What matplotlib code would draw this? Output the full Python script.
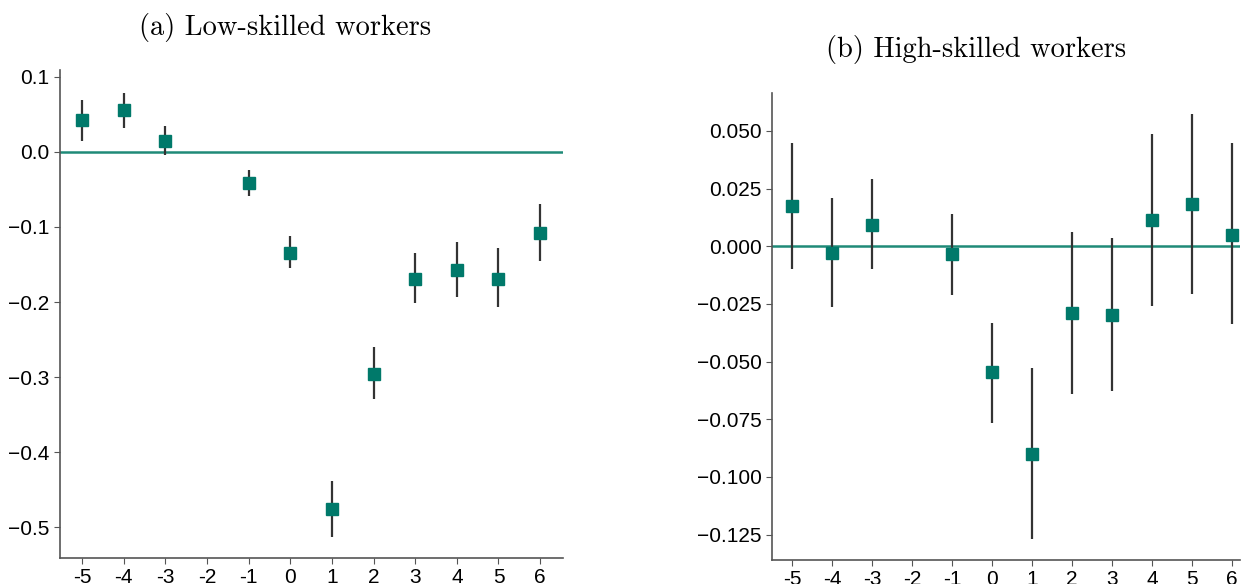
import numpy as np
import matplotlib
matplotlib.use("Agg")
import matplotlib.pyplot as plt

plt.rcParams['font.family'] = ['Liberation Sans', 'DejaVu Sans']

# event time
periods = [-5, -4, -3, -1, 0, 1, 2, 3, 4, 5, 6]
tick_labels = ['-5', '-4', '-3', '-2', '-1', '0', '1', '2', '3', '4', '5', '6']

# (a) low-skilled
low_coef = [0.043, 0.056, 0.015, -0.041, -0.135, -0.476, -0.296, -0.169, -0.157, -0.169, -0.108]
low_hi = [0.069, 0.079, 0.035, -0.024, -0.112, -0.439, -0.260, -0.135, -0.120, -0.128, -0.069]
low_lo = [0.015, 0.032, -0.004, -0.059, -0.155, -0.513, -0.329, -0.201, -0.193, -0.207, -0.145]

# (b) high-skilled
high_coef = [0.0174, -0.0030, 0.0091, -0.0035, -0.0547, -0.0902, -0.0290, -0.0300, 0.0113, 0.0182, 0.0049]
high_hi = [0.0447, 0.0208, 0.0290, 0.0139, -0.0331, -0.0527, 0.0062, 0.0035, 0.0486, 0.0575, 0.0446]
high_lo = [-0.0100, -0.0265, -0.0100, -0.0213, -0.0764, -0.1270, -0.0640, -0.0628, -0.0259, -0.0208, -0.0337]

teal = '#00796a'
zero_col = '#1f8a78'

fig = plt.figure(figsize=(12.44, 5.84), dpi=100)
ax1 = fig.add_axes([0.0482, 0.0445, 0.4044, 0.8355])
ax2 = fig.add_axes([0.6206, 0.041, 0.3762, 0.7998])


def panel(ax, coef, lo, hi, xlim, ylim, yticks, fmt):
    coef = np.array(coef)
    err = [coef - np.array(lo), np.array(hi) - coef]
    ax.axhline(0, color=zero_col, lw=1.8, zorder=1)
    ax.errorbar(periods, coef, yerr=err, fmt='none', ecolor='#333333',
                elinewidth=1.6, capsize=0, zorder=2)
    ax.plot(periods, coef, 's', color=teal, ms=8, zorder=3)
    ax.set_xlim(*xlim)
    ax.set_ylim(*ylim)
    ax.set_xticks(range(-5, 7))
    ax.set_xticklabels(tick_labels)
    ax.set_yticks(yticks)
    ax.set_yticklabels([fmt.format(v).replace('-', '\u2212') for v in yticks])
    for s in ['top', 'right']:
        ax.spines[s].set_visible(False)
    for s in ['left', 'bottom']:
        ax.spines[s].set_color('#555555')
        ax.spines[s].set_linewidth(1.2)
    ax.tick_params(labelsize=15, length=4, color='#555555')


panel(ax1, low_coef, low_lo, low_hi, (-5.53, 6.55), (-0.541, 0.109),
      [0.1, 0.0, -0.1, -0.2, -0.3, -0.4, -0.5], '{:.1f}')
panel(ax2, high_coef, high_lo, high_hi, (-5.5, 6.2), (-0.136, 0.0664),
      [0.05, 0.025, 0.0, -0.025, -0.05, -0.075, -0.1, -0.125], '{:.3f}')

fig.text(285 / 1244, 1 - 27 / 584, '(a) Low-skilled workers', family='cmr10',
         fontsize=20.5, ha='center', va='center')
fig.text(976 / 1244, 1 - 50 / 584, '(b) High-skilled workers', family='cmr10',
         fontsize=20.5, ha='center', va='center')

fig.savefig('out.png', dpi=100)
